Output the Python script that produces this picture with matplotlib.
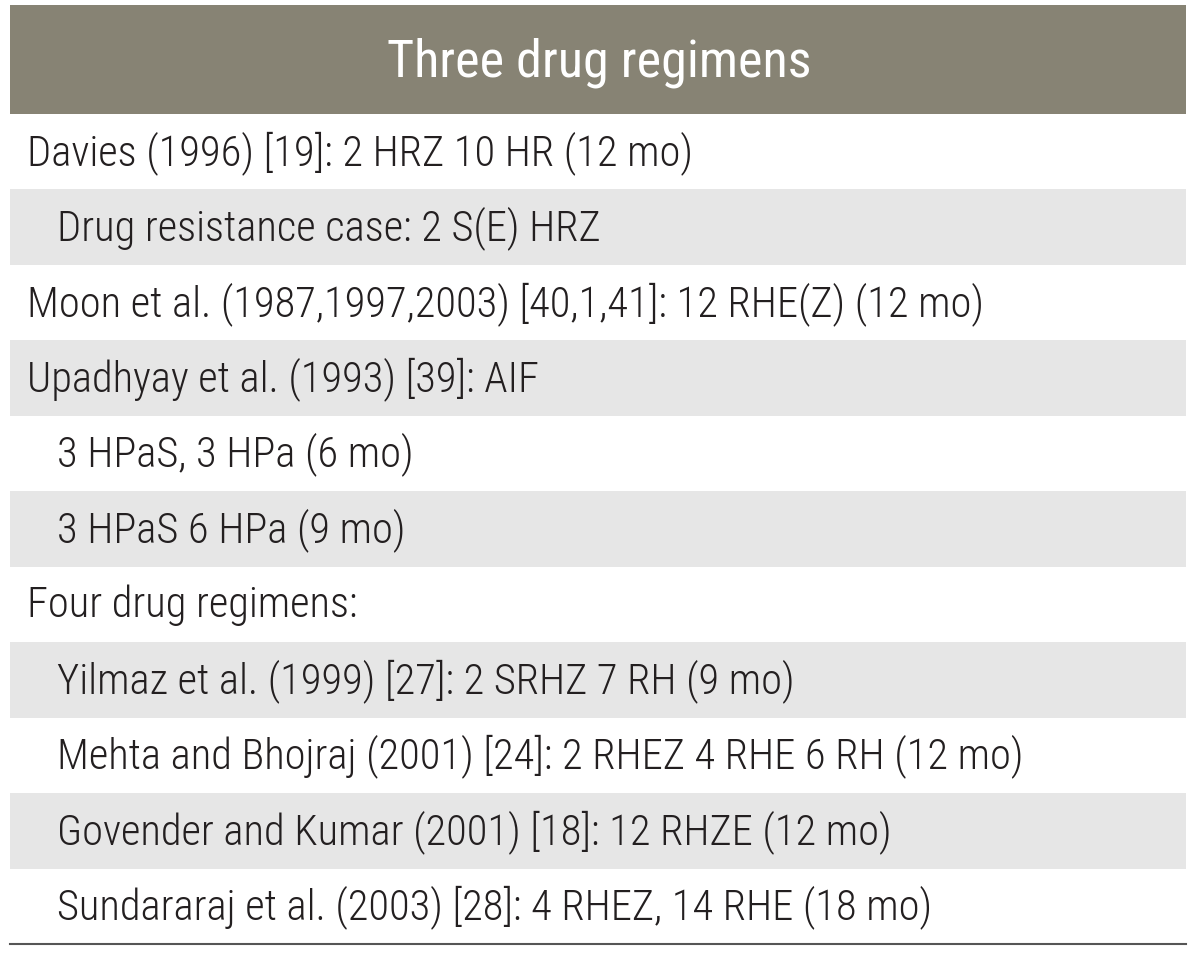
import matplotlib
matplotlib.use("Agg")
import matplotlib.pyplot as plt
from matplotlib.patches import Rectangle

header = "Three drug regimens"
rows = [
    "Davies (1996) [19]: 2 HRZ 10 HR (12 mo)",
    "Drug resistance case: 2 S(E) HRZ",
    "Moon et al. (1987,1997,2003) [40,1,41]: 12 RHE(Z) (12 mo)",
    "Upadhyay et al. (1993) [39]: AIF",
    "3 HPaS, 3 HPa (6 mo)",
    "3 HPaS 6 HPa (9 mo)",
    "Four drug regimens:",
    "Yilmaz et al. (1999) [27]: 2 SRHZ 7 RH (9 mo)",
    "Mehta and Bhojraj (2001) [24]: 2 RHEZ 4 RHE 6 RH (12 mo)",
    "Govender and Kumar (2001) [18]: 12 RHZE (12 mo)",
    "Sundararaj et al. (2003) [28]: 4 RHEZ, 14 RHE (18 mo)",
]
indent = [0, 1, 0, 0, 1, 1, 0, 1, 1, 1, 1]

fam = ["Roboto Condensed", "DejaVu Sans"]

W, H = 1200, 957
fig = plt.figure(figsize=(W / 100, H / 100), dpi=100)
ax = fig.add_axes([0, 0, 1, 1])
ax.set_xlim(0, W)
ax.set_ylim(H, 0)
ax.axis("off")

x0, x1 = 10, 1186
head_top, head_bot = 5, 114
bottom = 944
rh = (bottom - head_bot) / len(rows)

ax.add_patch(Rectangle((x0, head_top), x1 - x0, head_bot - head_top, color="#878374", lw=0))
ax.text((x0 + x1) / 2 + 1, 77, header, color="white",
        fontsize=37.5, family=fam, weight=400, ha="center", va="baseline")

for i, (t, ind) in enumerate(zip(rows, indent)):
    y = head_bot + i * rh
    if i % 2 == 1:
        ax.add_patch(Rectangle((x0, y), x1 - x0, rh, color="#e6e6e6", lw=0))
    ax.text(27 + 30 * ind, y + rh / 2 + 1, t, color="#231f20", fontsize=30.6,
            family=fam, weight=300, ha="left", va="center")

ax.plot([x0, x1], [bottom, bottom], color="#555555", lw=1.5)

fig.savefig("out.png", dpi=100)
